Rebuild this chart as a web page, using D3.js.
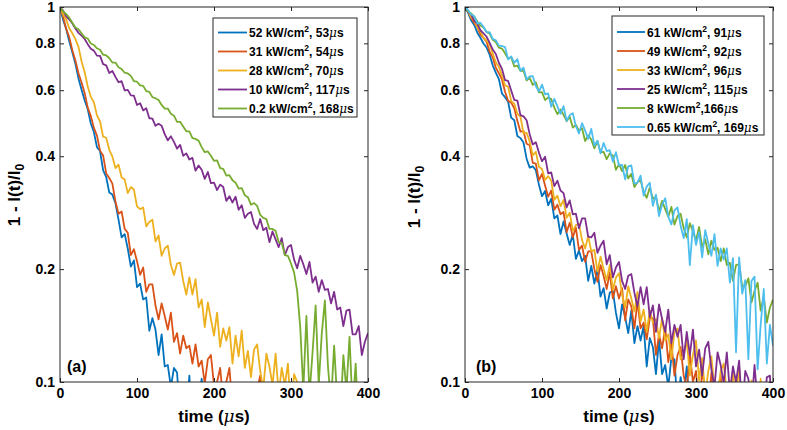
<!DOCTYPE html>
<html><head><meta charset="utf-8">
<script src="https://cdn.jsdelivr.net/npm/d3@7"></script>
<style>
body{margin:0;background:#fff}
text{font-family:"Liberation Sans",Arial,Helvetica,sans-serif;}
</style>
</head><body>
<svg id="chart" width="787" height="430"></svg>
<script>
// ---------- data (1 - I(t)/I0, in thousandths; one sample every 4 µs from t = 0) ----------
const timeStepUs = 4;
const xTicks = [0, 100, 200, 300, 400];
const yTicks = [0.1, 0.2, 0.4, 0.6, 0.8, 1];
const yTickLabels = ['0.1', '0.2', '0.4', '0.6', '0.8', '1'];

const seriesColors = ['#0072BD', '#D95319', '#EDB120', '#7E2F8E', '#77AC30', '#4DBEEE'];

// panel (a)
const a52 = [1000,924,875,810,757,706,645,602,564,534,489,464,423,413,367,352,320,316,300,271,243,248,227,203,211,179,183,166,168,137,148,138,118,134,110,111,97,109,106,81,98,82,104,73,99,88,102,84,75,
  55,60,52,58,50,56,48,54,46,52,45,50,44,49,43,48,42,47,41,46,40,45,39,44,38,43,37,42,36,41,35,40,34,39,33,38,32,37,31,36,30,35,29,34,28,33,27,32,26,31,25,30];
const a31 = [1000,942,875,831,767,720,666,629,590,539,512,476,454,414,402,360,350,338,303,281,285,256,250,218,226,210,193,202,174,182,182,160,147,162,150,138,153,128,135,119,133,123,125,112,126,110,114,99,115,118,98,100,109,89,100,109,86,99,79,92,98,82,77,91,95,104,72,89,77,93,71,
  80,74,86,70,82,68,78,66,84,64,76,62,80,60,74,58,78,57,72,56,76,55,70,54,74,53,68,52,72,50];
const a28 = [1000,956,927,878,851,821,783,716,671,614,576,557,514,495,451,448,416,399,372,380,351,347,319,331,326,294,289,292,260,267,271,237,246,217,227,231,205,193,207,208,186,171,190,171,188,158,166,140,163,147,133,153,124,139,129,140,112,133,117,137,109,121,103,122,126,107,96,119,110,98,119,93,109,98,112,83,105,100,83,99,86,93,81,97,95,74,92,82,96,76,92,69,84,92,73,67,91,74,83,60,85];
const a10 = [1000,978,944,926,905,876,853,839,822,796,774,765,742,741,704,699,667,675,651,630,634,599,601,581,580,548,554,530,537,505,504,482,488,482,458,441,452,437,419,429,401,407,392,396,366,378,368,348,363,339,340,325,336,331,304,313,301,312,288,296,274,281,284,264,256,272,254,258,236,252,240,229,242,218,229,232,212,201,217,206,194,209,184,191,174,187,176,177,162,174,156,158,141,155,156,134,134,141,118,128,135];
const a02 = [1000,973,958,937,908,882,872,851,830,824,799,792,776,769,746,743,730,711,711,691,683,668,665,655,634,632,618,616,597,594,575,571,565,548,536,536,519,513,494,494,480,466,466,447,445,440,423,410,412,401,389,390,372,370,355,356,345,340,328,329,315,311,297,300,295,279,274,272,256,256,253,236,235,218,217,207,196,175,140,95,150,92,120,160,98,135,165,110,88,125,90,80,118,95,132,85,112,75,70,62,58];

// panel (b)
const b61 = [1000,965,921,896,854,828,799,780,746,699,668,642,588,575,559,507,499,453,447,435,394,373,376,367,336,313,323,296,308,273,278,248,268,249,232,247,213,224,210,217,186,204,183,200,169,178,157,173,175,153,139,161,149,135,155,127,141,129,141,110,131,124,105,130,105,111,97,116,115,86,103,92,110,83,98,74,89,97,78,71,95,77,85,61,85,73,63,84,58,75,83,62,52,76,66,55,78,52,65,47,69];
const b49 = [1000,975,934,906,883,845,827,808,759,734,689,666,641,594,562,556,537,497,465,467,432,428,384,382,345,359,334,312,324,288,297,280,284,251,266,243,258,225,231,209,223,223,200,185,205,192,177,196,167,180,167,178,146,166,159,139,164,139,144,130,148,148,118,134,123,140,113,128,104,118,124,104,96,119,100,107,84,107,96,85,106,79,96,104,83,73,97,87,76,99,72,85,67,88,78,83,68,87,69,75,57];
const b33 = [1000,974,938,921,881,861,829,813,794,751,712,692,657,618,613,561,552,519,510,460,462,438,402,411,375,370,346,354,344,306,314,294,306,274,283,253,262,264,239,227,245,223,225,197,216,200,187,205,176,190,195,171,158,180,167,154,174,145,156,136,155,144,147,131,148,129,134,115,136,139,115,118,129,104,118,129,101,116,92,107,117,96,90,107,112,94,83,105,90,110,83,96,74,101,90,80,102,75,92,84,96];
const b25 = [1000,971,955,918,901,867,851,833,802,770,749,710,684,638,635,599,565,563,515,511,499,458,430,436,409,388,399,360,362,333,344,324,319,292,305,280,281,257,273,273,244,243,250,221,231,238,206,218,190,202,209,186,177,192,194,173,159,179,161,179,149,160,136,161,147,136,156,127,142,132,142,115,136,118,138,110,122,104,123,128,108,97,120,111,99,120,94,110,100,114,84,107,102,85,111,88,95,83,103,104,76];
const b8 = [1000,973,961,943,915,891,883,858,849,818,806,779,775,753,728,735,694,698,676,676,637,647,620,630,592,593,565,574,568,539,518,533,516,496,510,477,485,468,475,439,455,443,420,439,410,411,393,407,402,368,381,365,379,349,359,331,341,345,321,310,330,308,312,285,304,289,276,293,263,277,281,257,243,265,252,238,259,229,240,219,238,225,228,210,227,205,208,186,205,206,180,180,189,163,175,184,155,169,144,158,166];
const b065 = [1000,982,955,945,904,908,886,856,857,822,815,789,787,782,725,738,710,726,676,689,641,653,654,615,595,621,585,588,542,569,543,519,544,497,515,521,481,460,490,468,445,473,427,440,407,434,413,415,387,410,378,379,347,376,378,338,340,355,314,332,340,295,316,277,297,309,276,263,287,292,261,242,272,205,262,232,251,215,254,234,217,248,204,227,212,227,184,214,120,215,172,187,115,186,191,108,142,177,112,142,125];

// legend texts
const legendA = [['52 kW/cm', ', 53'], ['31 kW/cm', ', 54'], ['28 kW/cm', ', 70'], ['10 kW/cm', ', 117'], ['0.2 kW/cm', ', 168']];
const legendB = [['61 kW/cm', ', 91'], ['49 kW/cm', ', 92'], ['33 kW/cm', ', 96'], ['25 kW/cm', ', 115'], ['8 kW/cm', ',166'], ['0.65 kW/cm', ', 169']];

// ---------- drawing ----------
const svg = d3.select('#chart');
const defs = svg.append('defs');
const axisColor = '#262626';
const plotTop = 7, plotBottom = 382;

const panels = [
  {id: 'a', left: 60, right: 368, series: [a52, a31, a28, a10, a02], legend: legendA,
   tag: '(a)', tagX: 67, ylabX: 20, ylabY: 195, leg: {x: 213, y: 18, w: 144, h: 99, row0: 32.5, lineX0: 218, lineX1: 247, textX: 249}},
  {id: 'b', left: 465, right: 773, series: [b61, b49, b33, b25, b8, b065], legend: legendB,
   tag: '(b)', tagX: 476, ylabX: 420, ylabY: 197, leg: {x: 612, y: 16, w: 152, h: 119, row0: 32, lineX0: 617, lineX1: 645, textX: 647}}
];

panels.forEach(p => {
  const x = d3.scaleLinear().domain([0, 400]).range([p.left, p.right]);
  const y = d3.scaleLog().domain([0.1, 1]).range([plotBottom, plotTop]);
  const g = svg.append('g');

  defs.append('clipPath').attr('id', 'clip-' + p.id)
    .append('rect').attr('x', p.left).attr('y', plotTop)
    .attr('width', p.right - p.left).attr('height', plotBottom - plotTop);

  const line = d3.line()
    .x((d, i) => x(i * timeStepUs))
    .y(d => y(d / 1000));

  const lines = g.append('g').attr('clip-path', `url(#clip-${p.id})`);
  p.series.forEach((s, k) => {
    lines.append('path')
      .attr('d', line(s))
      .attr('fill', 'none')
      .attr('stroke', seriesColors[k])
      .attr('stroke-width', 1.8)
      .attr('stroke-linejoin', 'round');
  });

  // axes (MATLAB style: ticks inward on all four sides)
  const styleAxis = sel => {
    sel.select('.domain').remove();
    sel.selectAll('.tick line').attr('stroke', axisColor).attr('stroke-width', 1);
    sel.selectAll('.tick text').attr('fill', '#000').attr('font-size', 14)
      .attr('font-weight', 'bold').attr('font-family', '"Liberation Sans",Arial,sans-serif');
  };
  g.append('g').attr('transform', `translate(0,${plotBottom})`)
    .call(d3.axisBottom(x).tickValues(xTicks).tickSize(-4).tickSizeOuter(0).tickPadding(6))
    .call(styleAxis);
  g.append('g').attr('transform', `translate(0,${plotTop})`)
    .call(d3.axisTop(x).tickValues(xTicks).tickSize(-4).tickSizeOuter(0).tickFormat(() => ''))
    .call(styleAxis);
  g.append('g').attr('transform', `translate(${p.left},0)`)
    .call(d3.axisLeft(y).tickValues(yTicks).tickSize(-4).tickSizeOuter(0).tickPadding(5)
      .tickFormat(d => yTickLabels[yTicks.indexOf(d)]))
    .call(styleAxis);
  g.append('g').attr('transform', `translate(${p.right},0)`)
    .call(d3.axisRight(y).tickValues(yTicks).tickSize(-4).tickSizeOuter(0).tickFormat(() => ''))
    .call(styleAxis);

  g.append('rect').attr('x', p.left).attr('y', plotTop)
    .attr('width', p.right - p.left).attr('height', plotBottom - plotTop)
    .attr('fill', 'none').attr('stroke', axisColor).attr('stroke-width', 1);

  // x label
  const xl = g.append('text').attr('x', (p.left + p.right) / 2).attr('y', 422)
    .attr('text-anchor', 'middle').attr('font-size', 17).attr('font-weight', 'bold').attr('fill', '#000');
  xl.append('tspan').text('time (');
  xl.append('tspan').attr('font-weight', 'normal').attr('font-family', '"DejaVu Serif",serif').attr('font-style', 'italic').text('μ');
  xl.append('tspan').text('s)');

  // y label
  const yl = g.append('text').attr('transform', `translate(${p.ylabX},${p.ylabY}) rotate(-90)`)
    .attr('text-anchor', 'middle').attr('font-size', 17).attr('font-weight', 'bold').attr('fill', '#000');
  yl.append('tspan').text('1 - I(t)/I');
  yl.append('tspan').attr('font-size', 12).attr('dy', 4).text('0');

  // panel tag
  g.append('text').attr('x', p.tagX).attr('y', 372).attr('font-size', 16)
    .attr('font-weight', 'bold').attr('fill', '#000').text(p.tag);

  // legend
  const L = p.leg;
  const lg = g.append('g');
  lg.append('rect').attr('x', L.x).attr('y', L.y).attr('width', L.w).attr('height', L.h)
    .attr('fill', '#fff').attr('stroke', axisColor).attr('stroke-width', 1);
  p.legend.forEach((lab, k) => {
    const cy = L.row0 + k * 19;
    lg.append('line').attr('x1', L.lineX0).attr('x2', L.lineX1).attr('y1', cy).attr('y2', cy)
      .attr('stroke', seriesColors[k]).attr('stroke-width', 1.8);
    const t = lg.append('text').attr('x', L.textX).attr('y', cy + 4.5)
      .attr('font-size', 12).attr('font-weight', 'bold').attr('fill', '#000');
    t.append('tspan').text(lab[0]);
    t.append('tspan').attr('font-size', 8.5).attr('dy', -5).text('2');
    t.append('tspan').attr('dy', 5).text(lab[1]);
    t.append('tspan').attr('font-weight', 'normal').attr('font-family', '"DejaVu Serif",serif').attr('font-style', 'italic').text('μ');
    t.append('tspan').text('s');
  });
});
</script>
</body></html>
